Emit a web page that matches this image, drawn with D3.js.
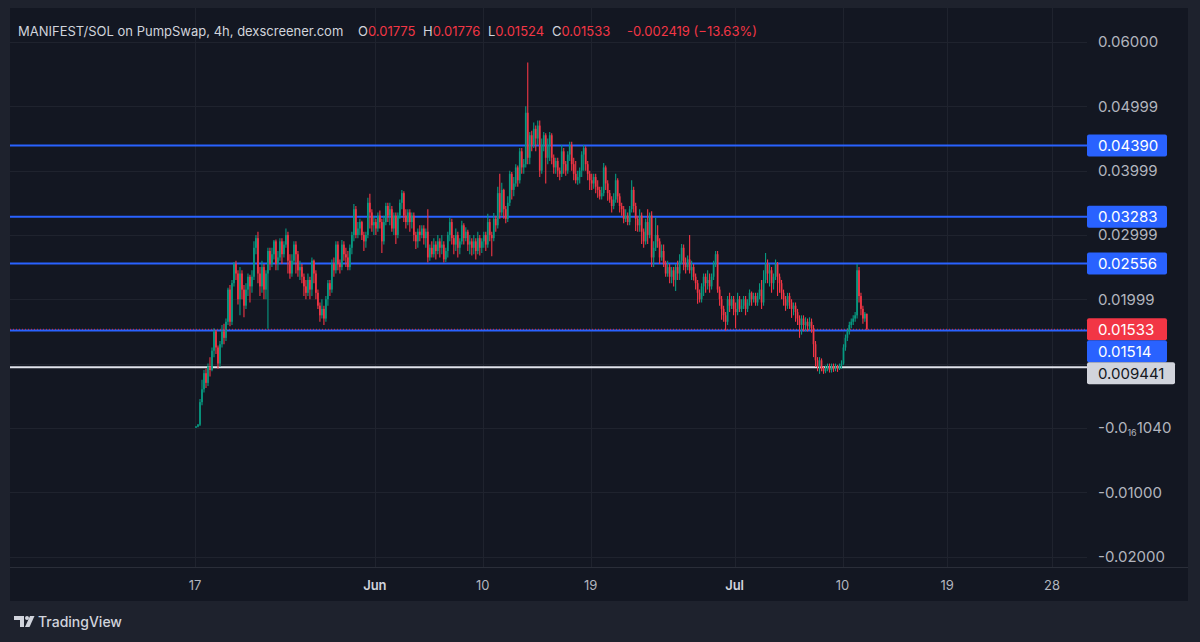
<!DOCTYPE html>
<html><head><meta charset="utf-8">
<script src="https://cdn.jsdelivr.net/npm/d3@7/dist/d3.min.js"></script>
<style>html,body{margin:0;padding:0;background:#1e222d;}svg{display:block;}</style>
</head><body>
<svg id="c" width="1200" height="642"></svg>
<script>
// ---- DATA (prices in units of 1e-4 SOL) ----
const startTime = "2025-05-17T00:00:00";
const barHours = 4;
const firstOpen = 1;
const closes = [2,5,40,60,85,70,95,90,120,150,125,100,130,150,140,165,215,165,225,255,240,200,240,215,190,215,235,220,235,280,295,240,220,250,215,240,275,255,270,290,255,265,290,270,285,300,260,240,260,285,270,245,250,235,220,210,230,215,260,240,210,190,175,185,170,200,225,215,255,245,285,255,250,285,270,265,250,280,300,340,300,310,320,300,290,300,350,335,315,320,310,330,320,290,320,345,330,340,310,330,300,330,350,365,330,320,335,320,330,300,290,305,300,310,295,305,265,280,270,285,275,290,280,285,262,275,300,320,295,285,300,280,290,315,295,305,285,290,280,290,275,295,280,290,300,285,320,300,295,325,315,365,335,370,340,325,350,395,370,380,405,385,430,405,410,490,420,455,440,465,450,470,400,440,455,420,440,455,420,405,415,400,395,430,410,400,425,440,410,395,385,390,400,425,435,410,395,385,380,390,375,370,360,365,405,380,365,355,345,355,385,360,345,340,325,330,320,340,370,345,325,315,330,305,290,320,300,330,265,280,300,290,265,275,255,240,250,235,245,230,250,240,260,280,255,250,262,245,250,235,225,210,200,220,235,225,230,220,235,255,270,215,200,185,175,165,200,190,200,185,180,200,185,190,200,185,195,210,200,205,195,205,215,195,230,255,240,245,225,235,255,235,225,210,200,190,205,195,185,190,180,170,160,170,160,165,158,165,155,130,105,95,105,92,88,92,95,90,96,92,95,93,97,100,125,140,150,160,165,170,175,245,205,185,170,177.5,153.3];
const highs = [3,6,45,75,90,92,100,110,125,155,152,128,135,160,162,170,218,222,230,258,260,245,250,245,222,225,240,238,245,290,300,305,250,260,255,245,280,280,280,292,293,275,295,295,290,310,305,270,270,290,290,275,260,255,240,230,240,235,265,262,245,215,195,200,190,205,230,230,262,265,290,290,262,292,290,280,275,285,305,348,345,320,325,322,305,305,358,364,340,330,325,335,338,325,330,350,350,350,345,335,335,335,355,370,368,340,340,340,335,335,305,310,315,315,315,310,340,285,290,295,290,300,295,300,290,280,305,327,325,300,310,305,295,322,318,312,308,300,295,300,295,305,300,295,305,305,333,325,305,334,330,375,395,381,372,345,360,400,398,390,410,408,435,435,418,500,568,460,462,475,470,478,478,450,460,458,450,460,458,425,420,420,405,440,435,415,430,445,445,420,415,400,405,430,440,438,415,400,395,395,395,385,375,375,412,408,385,370,360,365,395,388,365,350,345,340,335,345,385,375,350,330,340,335,310,325,340,335,337,290,327,315,295,285,285,260,260,255,250,250,255,260,270,286,285,265,268,300,260,255,240,230,215,225,240,240,245,240,240,260,275,275,220,205,190,180,205,210,205,205,195,210,205,200,205,205,200,215,212,210,210,210,225,230,245,272,262,255,250,240,262,258,240,230,215,205,210,210,200,195,195,185,175,175,175,172,170,172,170,160,135,110,110,108,95,97,100,100,100,100,100,98,100,105,130,145,155,165,170,175,180,255,250,210,190,180,177.6];
const lows = [0,1,3,35,55,62,65,80,88,110,115,92,95,125,130,135,160,158,160,220,230,192,175,200,172,185,205,195,210,230,270,225,205,210,200,200,154,245,250,262,245,245,260,255,265,280,240,232,235,255,240,235,230,225,205,200,205,200,205,225,200,185,165,170,160,165,190,205,210,235,240,245,240,245,260,250,245,245,270,290,295,295,300,292,275,280,295,310,305,300,300,305,310,272,285,315,320,315,305,300,286,295,325,340,320,310,315,305,310,290,278,280,290,295,285,280,257,260,265,265,262,270,265,270,257,258,265,290,285,270,275,265,270,285,285,290,275,270,268,270,262,270,268,272,280,275,280,290,267,290,305,310,325,330,325,318,320,345,355,360,375,375,380,395,395,405,410,410,430,435,430,440,390,395,430,380,410,415,410,395,395,390,385,390,395,392,395,415,400,385,380,378,380,390,400,400,385,370,370,372,365,358,355,355,360,370,353,350,335,340,350,350,335,330,318,320,315,315,335,335,306,305,305,286,280,285,286,295,250,250,275,280,255,260,250,235,235,225,225,220,213,230,230,255,245,240,245,240,230,229,215,193,195,195,205,210,215,210,215,230,250,210,190,168,165,151,160,180,185,175,155,175,180,180,185,175,180,190,190,195,190,190,200,185,190,225,225,220,210,215,230,205,210,200,190,182,185,185,171,175,165,160,140,145,150,150,150,152,148,110,95,88,84,88,84,85,88,86,86,87,88,87,90,92,98,120,135,145,155,160,165,170,195,175,162,165,152.4];
const xTickDates = ["2025-05-17","2025-06-01","2025-06-10","2025-06-19","2025-07-01","2025-07-10","2025-07-19","2025-07-28"];
const xTickLabels = ["17","Jun","10","19","Jul","10","19","28"];
const yTickValues = [0.06,0.05,0.04,0.03,0.02,0,-0.01,-0.02];
const yTickLabels = ["0.06000","0.04999","0.03999","0.02999","0.01999","-0.0|16|1040","-0.01000","-0.02000"];
const levelValues = [0.04390,0.03283,0.02556,0.01514];
const lowLevel = 0.009441;
const lastPrice = 0.01533;
const header = {title:"MANIFEST/SOL on PumpSwap, 4h, dexscreener.com", o:"0.01775", h:"0.01776", l:"0.01524", c:"0.01533", chg:"-0.002419 (\u221213.63%)"};

// ---- LAYOUT ----
const W=1200,H=642;
const panel={x:10,y:8,r:1188,b:601};
const plot={l:10,r:1087,t:8,b:567};
const UP="#089981", DN="#f23645", BLUE="#2962ff", GRID="#1f232e";
const FONT="Inter, 'Noto Sans', sans-serif";

const svg=d3.select("#c");
svg.append("rect").attr("width",W).attr("height",H).attr("fill","#1e222d");
svg.append("rect").attr("x",panel.x).attr("y",panel.y).attr("width",panel.r-panel.x).attr("height",panel.b-panel.y).attr("fill","#131722");

const parse=d3.isoParse;
const t0=parse(startTime);
const x=d3.scaleTime()
  .domain([parse("2025-05-17"),parse("2025-07-10"),parse("2025-07-28")])
  .range([195,842.5,1052]);
const y=d3.scaleLinear().domain([-0.02,0.06]).range([556.5,42]);

// candles data
const bars=closes.map((c,i)=>{
  const o=i===0?firstOpen:closes[i-1];
  return {t:new Date(t0.getTime()+i*barHours*3600e3),o:o*1e-4,c:c*1e-4,h:highs[i]*1e-4,l:lows[i]*1e-4};
});

const g=svg.append("g");
// grid
g.selectAll(".hg").data(yTickValues.concat([0.01])).join("line")
  .attr("x1",plot.l).attr("x2",plot.r).attr("y1",d=>Math.round(y(d))+0.5).attr("y2",d=>Math.round(y(d))+0.5)
  .attr("stroke",GRID).attr("stroke-width",1);
g.selectAll(".vg").data(xTickDates).join("line")
  .attr("x1",d=>Math.round(x(parse(d)))+0.5).attr("x2",d=>Math.round(x(parse(d)))+0.5)
  .attr("y1",plot.t).attr("y2",plot.b).attr("stroke",GRID).attr("stroke-width",1);

// level lines
g.selectAll(".lvl").data(levelValues).join("line")
  .attr("x1",plot.l).attr("x2",plot.r).attr("y1",d=>y(d)).attr("y2",d=>y(d))
  .attr("stroke",BLUE).attr("stroke-width",2);
g.append("line").attr("x1",plot.l).attr("x2",plot.r).attr("y1",y(lowLevel)).attr("y2",y(lowLevel))
  .attr("stroke","#e0e3eb").attr("stroke-width",2);

// candles
const bw=1.7;
const cg=g.append("g");
cg.selectAll(".wick").data(bars).join("line")
  .attr("x1",d=>x(d.t)+1).attr("x2",d=>x(d.t)+1)
  .attr("y1",d=>y(d.h)).attr("y2",d=>y(d.l))
  .attr("stroke",d=>d.c>=d.o?UP:DN).attr("stroke-width",1.1);
cg.selectAll(".body").data(bars).join("rect")
  .attr("x",d=>x(d.t)+1-bw/2).attr("width",bw)
  .attr("y",d=>y(Math.max(d.o,d.c)))
  .attr("height",d=>Math.max(1,Math.abs(y(d.o)-y(d.c))))
  .attr("fill",d=>d.c>=d.o?UP:DN);

// last price dotted line
g.append("line").attr("x1",plot.l).attr("x2",plot.r).attr("y1",y(lastPrice)).attr("y2",y(lastPrice))
  .attr("stroke",DN).attr("stroke-width",1).attr("stroke-dasharray","1 2").attr("opacity",0.85);

// axis frame lines
svg.append("line").attr("x1",panel.x).attr("x2",panel.r).attr("y1",plot.b+0.5).attr("y2",plot.b+0.5).attr("stroke","#2a2e39");

// y tick labels
const yl=svg.append("g").attr("font-family",FONT).attr("font-size",15).attr("fill","#b2b5be");
yTickValues.forEach((v,i)=>{
  const parts=yTickLabels[i].split("|");
  const t=yl.append("text").attr("x",1098).attr("y",y(v)).attr("dy","0.36em");
  if(parts.length===3){
    t.append("tspan").text(parts[0]);
    t.append("tspan").attr("font-size",9).attr("dy",3).text(parts[1]);
    t.append("tspan").attr("dy",-3).text(parts[2]);
  } else t.text(parts[0]);
});

// price labels on axis (with collision push-down)
const labels=[
  {v:levelValues[0],txt:"0.04390",bg:BLUE,fg:"#fff",w:80},
  {v:levelValues[1],txt:"0.03283",bg:BLUE,fg:"#fff",w:80},
  {v:levelValues[2],txt:"0.02556",bg:BLUE,fg:"#fff",w:80},
  {v:lastPrice,txt:"0.01533",bg:DN,fg:"#fff",w:80},
  {v:levelValues[3],txt:"0.01514",bg:BLUE,fg:"#fff",w:80},
  {v:lowLevel,txt:"0.009441",bg:"#d1d4dc",fg:"#131722",w:88}
];
const lh=22;
let prevBottom=-1e9;
labels.forEach(d=>{
  let cy=y(d.v);
  if(cy-lh/2<prevBottom) cy=prevBottom+lh/2;
  prevBottom=cy+lh/2;
  d.cy=cy;
});
const lg=svg.append("g").attr("font-family",FONT).attr("font-size",15);
lg.selectAll("rect").data(labels).join("rect")
  .attr("x",1087).attr("y",d=>d.cy-lh/2).attr("width",d=>d.w).attr("height",lh).attr("rx",2)
  .attr("fill",d=>d.bg);
lg.selectAll("text").data(labels).join("text")
  .attr("x",1098).attr("y",d=>d.cy).attr("dy","0.36em").attr("fill",d=>d.fg).text(d=>d.txt);

// x tick labels
svg.append("g").attr("font-family",FONT).attr("font-size",13).attr("text-anchor","middle")
  .selectAll("text").data(xTickDates).join("text")
  .attr("x",d=>x(parse(d))).attr("y",590)
  .attr("fill",(d,i)=>/[A-Za-z]/.test(xTickLabels[i])?"#d1d4dc":"#b2b5be")
  .attr("font-weight",(d,i)=>/[A-Za-z]/.test(xTickLabels[i])?600:400)
  .text((d,i)=>xTickLabels[i]);

// header
const ht=svg.append("text").attr("x",18).attr("y",36).attr("font-family",FONT).attr("font-size",13).attr("fill","#d1d4dc");
ht.append("tspan").text(header.title);
[["O",header.o,358],["H",header.h,423],["L",header.l,488],["C",header.c,552]].forEach(p=>{
  ht.append("tspan").attr("x",p[2]).text(p[0]);
  ht.append("tspan").attr("fill",DN).text(p[1]);
});
ht.append("tspan").attr("x",627).attr("fill",DN).text(header.chg);

// TradingView logo
const logo=svg.append("g").attr("fill","#d1d4dc");
logo.append("path").attr("d","M14 616 h10 v11 h-4 v-7 h-6 z");
logo.append("circle").attr("cx",27).attr("cy",618).attr("r",2);
logo.append("path").attr("d","M30 616 h4.5 l-5 11 h-4.5 z");
svg.append("text").attr("x",38).attr("y",627).attr("font-family",FONT).attr("font-size",14).attr("font-weight",500)
  .attr("fill","#d1d4dc").text("TradingView");
</script>
</body></html>
